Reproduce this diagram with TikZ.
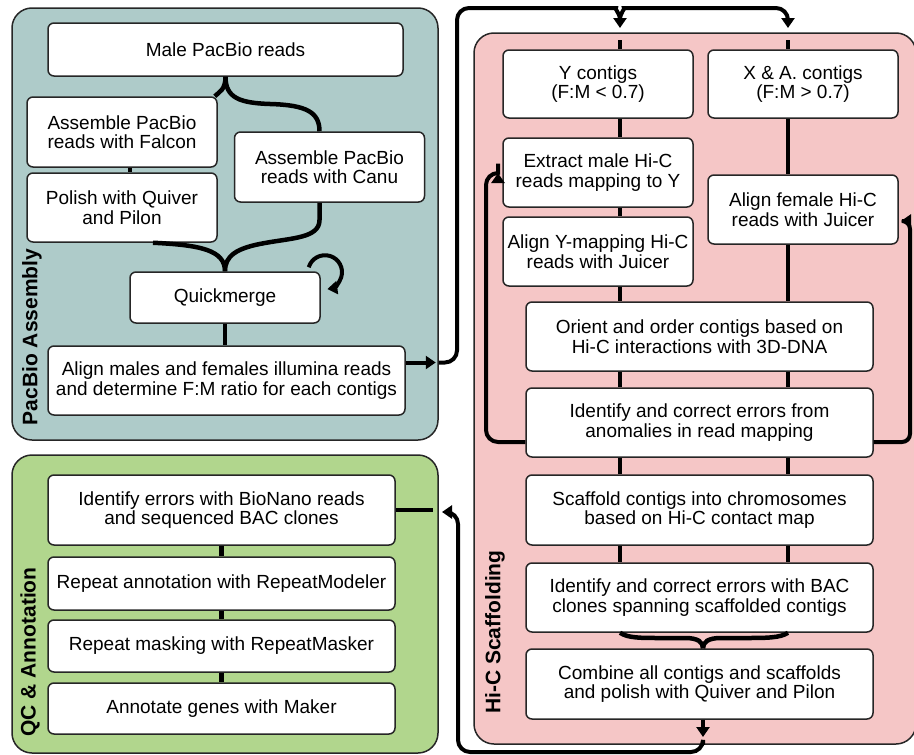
\documentclass[tikz,border=0pt]{standalone}
\usepackage{xcolor}
\usepackage{tikz}
\usetikzlibrary{positioning,shapes,arrows.meta}
\usepackage{fontspec}
\setmainfont{Liberation Sans}
\definecolor{pacbiobg}{RGB}{174,203,201}
\definecolor{hicbg}{RGB}{245,198,198}
\definecolor{qcbg}{RGB}{177,214,141}

\begin{document}
\begin{tikzpicture}[x=1pt,y=-1pt,
                panel/.style={draw=black!85, line width=1.5pt, rounded corners=20pt, inner sep=0pt},
                stepbox/.style={draw=black!85, fill=white, line width=1.5pt, rounded corners=6pt,
                    align=center, inner sep=2pt, font=\fontsize{19}{19.5}\selectfont},
                panelname/.style={rotate=90, font=\fontsize{21}{21}\selectfont\bfseries},
                link/.style={line width=4.5pt},
                flow/.style={line width=4pt, rounded corners=12pt, -{Triangle[length=10pt,width=13pt]}}]
                \useasboundingbox (0,0) rectangle (914,755);

                \node[panel, fill=pacbiobg, minimum width=426pt, minimum height=432pt] (pacbio) at (225,224) {};
                \node[panel, fill=hicbg, minimum width=442pt, minimum height=711pt] (hic) at (695,388.5) {};
                \node[panel, fill=qcbg, minimum width=426pt, minimum height=298pt] (qc) at (225,604) {};

                \node[panelname] (pacbiolbl) at (32,337) {PacBio Assembly};
                \node[panelname] (hiclbl) at (495,632) {Hi-C Scaffolding};
                \node[panelname] (qclbl) at (30,652) {QC \& Annotation};

                \node[stepbox, minimum width=355pt, minimum height=53pt] (male) at (225.5,49.5) {Male PacBio reads};
                \node[stepbox, minimum width=190pt, minimum height=70pt] (falcon) at (122,132) {Assemble PacBio\\reads with Falcon};
                \node[stepbox, minimum width=190pt, minimum height=69pt] (polish) at (122,207.5) {Polish with Quiver\\and Pilon};
                \node[stepbox, minimum width=190pt, minimum height=70pt] (canu) at (329.5,167) {Assemble PacBio\\reads with Canu};
                \node[stepbox, minimum width=190pt, minimum height=51pt] (qmerge) at (225,297.5) {Quickmerge};
                \node[stepbox, minimum width=357pt, minimum height=69pt] (align) at (226.5,380.5) {Align males and females illumina reads\\and determine F:M ratio for each contigs};

                \node[stepbox, minimum width=190pt, minimum height=68pt] (ycont) at (598,84) {Y contigs\\(F:M < 0.7)};
                \node[stepbox, minimum width=190pt, minimum height=68pt] (xcont) at (803,84) {X \& A. contigs\\(F:M > 0.7)};
                \node[stepbox, minimum width=190pt, minimum height=69pt] (extract) at (598,172.5) {Extract male Hi-C\\reads mapping to Y};
                \node[stepbox, minimum width=190pt, minimum height=69pt] (aligny) at (598,251.5) {Align Y-mapping Hi-C\\reads with Juicer};
                \node[stepbox, minimum width=190pt, minimum height=69pt] (alignf) at (803,209.5) {Align female Hi-C\\reads with Juicer};
                \node[stepbox, minimum width=347pt, minimum height=69pt] (orient) at (699.5,336.5) {Orient and order contigs based on\\Hi-C interactions with 3D-DNA};
                \node[stepbox, minimum width=347pt, minimum height=69pt] (anomal) at (699.5,422.5) {Identify and correct errors from\\anomalies in read mapping};
                \node[stepbox, minimum width=347pt, minimum height=70pt] (scaff) at (699.5,510) {Scaffold contigs into chromosomes\\based on Hi-C contact map};
                \node[stepbox, minimum width=347pt, minimum height=69pt] (bac) at (699.5,597.5) {Identify and correct errors with BAC\\clones spanning scaffolded contigs};
                \node[stepbox, minimum width=347pt, minimum height=70pt] (combine) at (699.5,684) {Combine all contigs and scaffolds\\and polish with Quiver and Pilon};

                \node[stepbox, minimum width=347pt, minimum height=70pt] (bionano) at (221.5,510) {Identify errors with BioNano reads\\and sequenced BAC clones};
                \node[stepbox, minimum width=347pt, minimum height=53pt] (repmod) at (221.5,583.5) {Repeat annotation with RepeatModeler};
                \node[stepbox, minimum width=347pt, minimum height=52pt] (repmask) at (221.5,646) {Repeat masking with RepeatMasker};
                \node[stepbox, minimum width=347pt, minimum height=51pt] (genes) at (221.5,708.5) {Annotate genes with Maker};

                \coordinate (ytip) at (620,28);
                \coordinate (xtip) at (788,28);
                \coordinate (yin) at (620,40);
                \coordinate (xin) at (788,40);
                \coordinate (cout) at (703,737);
                \coordinate (qcin) at (442,512);

                \draw[link] (male.south) .. controls (225.5,90) and (219,92) .. ([xshift=-3pt]falcon.north east);
                \draw[link] (male.south) .. controls (225.5,98) and (240,103) .. (270,104)
                    .. controls (306,105) and (319.5,112) .. ([xshift=-10pt]canu.north);
                \draw[link] ([xshift=8pt]falcon.south) -- ([xshift=8pt]polish.north);
                \draw[link] ([xshift=31pt]polish.south) .. controls (200,245) and (225,250) .. (qmerge.north);
                \draw[link] ([xshift=-10pt]canu.south) -- (319.5,220) .. controls (319.5,238) and (292,238) .. (265,243)
                    .. controls (236,248) and (225,256) .. (qmerge.north);
                \draw[line width=4pt, -{Triangle[length=10pt,width=13pt]}] ([xshift=-12pt,yshift=4pt]qmerge.north east)
                    arc[start angle=197, end angle=442, radius=17];
                \draw[link] (qmerge.south) -- (qmerge.south |- align.north);

                \draw[flow] ([yshift=18pt]align.east) -- ++(30,0);
                \draw[flow] ([xshift=33pt,yshift=18pt]align.east)
                    -| (457,8) -- (604,8) .. controls (614,8) and (620,14) .. (ytip);
                \draw[flow] ([yshift=8pt]ytip) .. controls (620,12) and (626,8) .. (636,8) -| (xtip);

                \draw[link] (yin) -- (yin |- ycont.north);
                \draw[link] (xin) -- (xin |- xcont.north);
                \foreach \a/\b in {ycont/extract, extract/aligny, aligny/orient, orient/anomal, anomal/scaff, scaff/bac}
                    \draw[link] (\a.south -| yin) -- (\b.north -| yin);
                \foreach \a/\b in {xcont/alignf, alignf/orient, orient/anomal, anomal/scaff, scaff/bac}
                    \draw[link] (\a.south -| xin) -- (\b.north -| xin);

                \draw[flow] ([yshift=-19.5pt]anomal.west) -| (486,173) -- (498,173);
                \draw[flow, rounded corners=8pt] ([yshift=-19.5pt]anomal.east) -| (910,221) -- (901,221);

                \draw[link] (bac.south -| yin) .. controls (628,638) and (640,638) .. (660,638) -- (685,638)
                    .. controls (698,638) and (703,642) .. (combine.north -| cout);
                \draw[link] (bac.south -| xin) .. controls (780,638) and (766,638) .. (746,638) -- (721,638)
                    .. controls (708,638) and (703,642) .. (combine.north -| cout);
                \draw[flow] (combine.south -| cout) -- (cout);
                \draw[flow] (hic.south -| cout) |- (458,752) |- (qcin);
                \draw[link] (bionano.east) -- ++(37,0);

                \draw[link] (bionano.south) -- (repmod.north);
                \draw[link] (repmod.south) -- (repmask.north);
                \draw[link] (repmask.south) -- (genes.north);
            \end{tikzpicture}
\end{document}
